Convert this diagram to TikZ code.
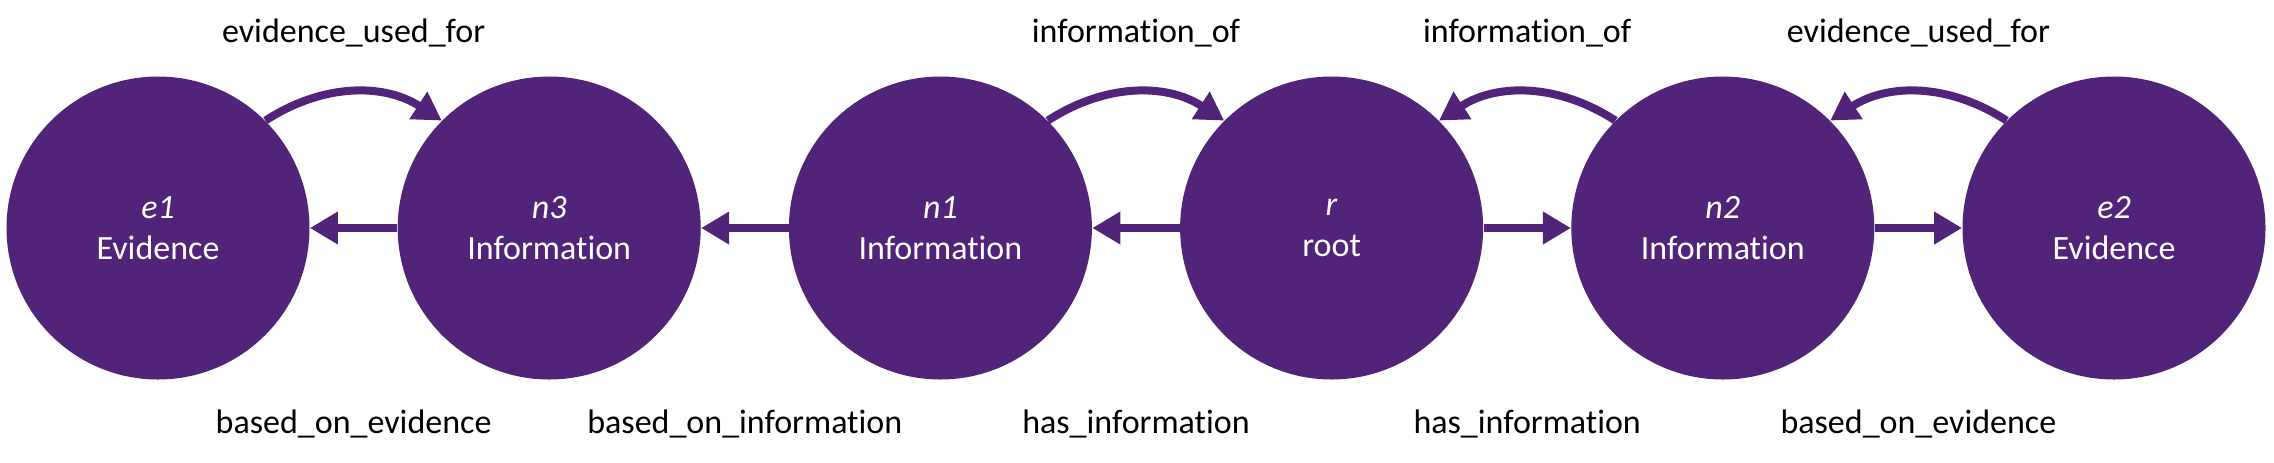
\documentclass[tikz,border=0pt]{standalone}
\usepackage{fontspec}
\setmainfont[Ligatures={NoCommon}]{Carlito}
\usetikzlibrary{arrows.meta}
\definecolor{uqpurple}{HTML}{51247A}
\begin{document}
\begin{tikzpicture}[x=0.5pt,y=-0.5pt,
  ent/.style={circle,fill=uqpurple,minimum size=151.5pt,inner sep=0pt,text=white,align=center,font=\fontsize{17}{20.5}\selectfont},
  rel/.style={line width=4pt,draw=uqpurple,-{Triangle[length=14pt,width=15.5pt]}},
  lbl/.style={anchor=base,font=\fontsize{17}{20.5}\selectfont,text=black,inner sep=0pt}]
\useasboundingbox (0,0) rectangle (2274,462);
\node[ent] (e1) at (158,228) {\textit{e1}\\Evidence};
\node[ent] (n3) at (549.2,228) {\textit{n3}\\Information};
\node[ent] (n1) at (940.4,228) {\textit{n1}\\Information};
\node[ent] (r)  at (1331.6,228) {\textit{r}\\root};
\node[ent] (n2) at (1722.8,228) {\textit{n2}\\Information};
\node[ent] (e2) at (2114,228) {\textit{e2}\\Evidence};
% straight arrows
\draw[rel] (n3) -- (e1);
\draw[rel] (n1) -- (n3);
\draw[rel] (r) -- (n1);
\draw[rel] (r) -- (n2);
\draw[rel] (n2) -- (e2);
% curved arrows
\draw[rel] (e1.45) to[bend left=33] (n3.135);
\draw[rel] (n1.45) to[bend left=33] (r.135);
\draw[rel] (n2.135) to[bend right=33] (r.45);
\draw[rel] (e2.135) to[bend right=33] (n2.45);
% labels
\node[lbl] (t1) at (353.6,42) {evidence\_used\_for};
\node[lbl] (t2) at (1136,42) {information\_of};
\node[lbl] (t3) at (1527.2,42) {information\_of};
\node[lbl] (t4) at (1918.4,42) {evidence\_used\_for};
\node[lbl] (b1) at (353.6,433) {based\_on\_evidence};
\node[lbl] (b2) at (744.8,433) {based\_on\_information};
\node[lbl] (b3) at (1136,433) {has\_information};
\node[lbl] (b4) at (1527.2,433) {has\_information};
\node[lbl] (b5) at (1918.4,433) {based\_on\_evidence};
\end{tikzpicture}
\end{document}
